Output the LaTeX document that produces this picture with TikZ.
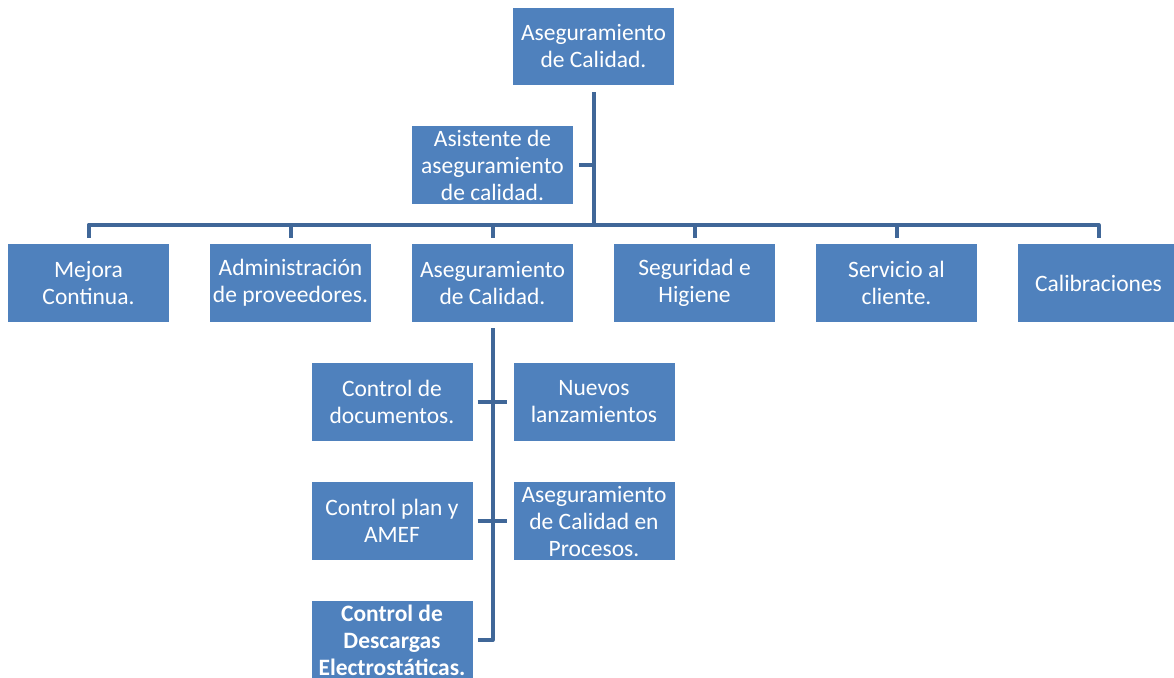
\documentclass[tikz,border=0pt]{standalone}
\usepackage{fontspec}
\setmainfont{Carlito}
\definecolor{boxblue}{RGB}{79,129,189}
\definecolor{lineblue}{RGB}{64,103,152}
\begin{document}
\begin{tikzpicture}[x=1pt,y=-1pt,
  box/.style={fill=boxblue, text=white, minimum width=161pt, minimum height=78pt,
    align=center, inner sep=1pt, font=\fontsize{23.5}{27}\selectfont},
  conn/.style={draw=lineblue, line width=4pt, line join=round, line cap=butt}]
\fill[white] (0,0) rectangle (1174,677);
\useasboundingbox (0,0) rectangle (1174,677);

\node[box, minimum height=77pt] (top) at (593.5,46.5) {Aseguramiento\\de Calidad.};
\node[box] (asst) at (492.5,165) {Asistente de\\aseguramiento\\de calidad.};

\node[box] (m1) at (88.5,283) {Mejora\\Continua.};
\node[box] (m2) at (290.5,283) {Administración\\de proveedores.};
\node[box] (m3) at (492.5,283) {Aseguramiento\\de Calidad.};
\node[box] (m4) at (694.5,283) {Seguridad e\\Higiene};
\node[box] (m5) at (896.5,283) {Servicio al\\cliente.};
\node[box] (m6) at (1098.5,283) {Calibraciones};

\node[box] (l1) at (392,402) {Control de\\documentos.};
\node[box] (r1) at (594,402) {Nuevos\\lanzamientos};
\node[box] (l2) at (392,521) {Control plan y\\AMEF};
\node[box] (r2) at (594,521) {Aseguramiento\\de Calidad en\\Procesos.};
\node[box, font=\fontsize{23.5}{27}\selectfont\bfseries] (l3) at (392,640) {Control de\\Descargas\\Electrostáticas.};

% top connectors
\coordinate (bus) at ([yshift=19pt]m1.north);
\draw[conn] ([yshift=-7pt]top.south) -- (top.south |- bus);
\draw[conn] ([xshift=6pt]asst.east) -- (top.south |- asst.east);
\draw[conn] ([yshift=6pt]m1.north) -- ([yshift=19pt]m1.north) -- ([yshift=19pt]m6.north) -- ([yshift=6pt]m6.north);
\foreach \n in {m2,m3,m4,m5}
  \draw[conn] ([yshift=6pt]\n.north) -- ([yshift=19pt]\n.north);

% lower connectors
\draw[conn] ([yshift=-6pt]m3.south) -- (m3.south |- l3.east) -- ([xshift=5pt]l3.east);
\draw[conn] ([xshift=5pt]l1.east) -- ([xshift=-6pt]r1.west);
\draw[conn] ([xshift=5pt]l2.east) -- ([xshift=-6pt]r2.west);
\end{tikzpicture}
\end{document}
